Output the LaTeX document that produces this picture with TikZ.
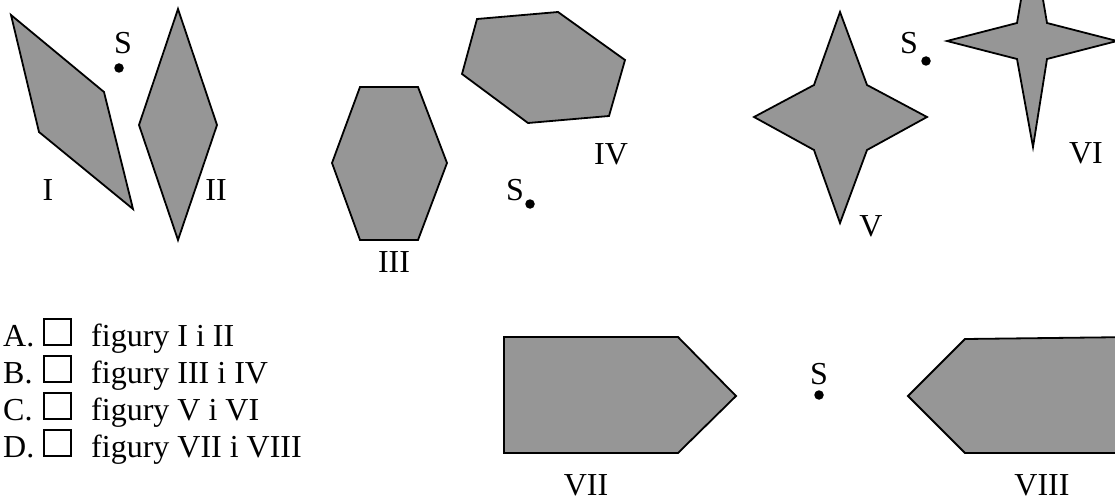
\documentclass[tikz,border=0pt]{standalone}
\usepackage{fontspec}
\setmainfont{Liberation Serif}
\definecolor{figfill}{RGB}{150,150,150}
\tikzset{
  fig/.style={draw=black, fill=figfill, line width=1.8pt, line join=miter},
  lbl/.style={inner sep=0pt, font=\fontsize{32}{38}\selectfont},
  ctr/.style={fill=black, circle, inner sep=0pt, minimum size=9.5pt},
  chk/.style={draw=black, line width=2pt, inner sep=0pt, minimum width=27pt, minimum height=26pt, anchor=south west},
  txt/.style={inner sep=0pt, anchor=base west, font=\fontsize{32}{38}\selectfont}
}
\begin{document}
\begin{tikzpicture}[x=1pt,y=-1pt]
\useasboundingbox (0,0) rectangle (1115,500);
\clip (0,0) rectangle (1115,500);
% Figures I and II
\draw[fig] (11,15) -- (104,92) -- (133,209) -- (39,132) -- cycle;
\draw[fig] (178,9) -- (217,125) -- (178,240) -- (139,125) -- cycle;
\node[ctr] (s1) at (119,68) {};
\node[lbl] (s1l) at (123,43) {S};
\node[lbl] (l1) at (48,190) {I};
\node[lbl] (l2) at (216,190) {II};
% Figures III and IV
\draw[fig] (360,87) -- (418,87) -- (447,163) -- (418,240) -- (360,240) -- (332,163) -- cycle;
\draw[fig] (477,19) -- (558,12) -- (625,60) -- (609,116) -- (528,123) -- (462,74) -- cycle;
\node[ctr] (s2) at (530,204) {};
\node[lbl] (s2l) at (515,190) {S};
\node[lbl] (l3) at (394,262) {III};
\node[lbl] (l4) at (611,154) {IV};
% Figures V and VI
\draw[fig] (840,12) -- (867,85) -- (927,117) -- (867,150) -- (840,223) -- (814,150) -- (754,117) -- (814,85) -- cycle;
\draw[fig] (947,41) -- (1017,23) -- (1032,-65) -- (1047,23) -- (1117,41) -- (1047,59) -- (1033,147) -- (1017,59) -- cycle;
\node[ctr] (s3) at (926,61) {};
\node[lbl] (s3l) at (909,43) {S};
\node[lbl] (l5) at (871,226) {V};
\node[lbl] (l6) at (1086,153) {VI};
% Figures VII and VIII
\draw[fig] (504,337) -- (678,337) -- (736,396) -- (678,453) -- (504,453) -- cycle;
\draw[fig] (908,396) -- (965,339) -- (1135,337) -- (1135,453) -- (965,453) -- cycle;
\node[ctr] (s4) at (819,395) {};
\node[lbl] (s4l) at (819,374) {S};
\node[lbl] (l7) at (586,485) {VII};
\node[lbl] (l8) at (1042,485) {VIII};
% Answers
\node[txt] (ta) at (3,346) {A.};
\node[chk] (ba) at (43,346) {};
\node[txt] (fa) at (91,346) {figury I i II};
\node[txt] (tb) at (3,383) {B.};
\node[chk] (bb) at (43,383) {};
\node[txt] (fb) at (91,383) {figury III i IV};
\node[txt] (tc) at (3,420) {C.};
\node[chk] (bc) at (43,420) {};
\node[txt] (fc) at (91,420) {figury V i VI};
\node[txt] (td) at (3,457) {D.};
\node[chk] (bd) at (43,457) {};
\node[txt] (fd) at (91,457) {figury VII i VIII};
\end{tikzpicture}
\end{document}
